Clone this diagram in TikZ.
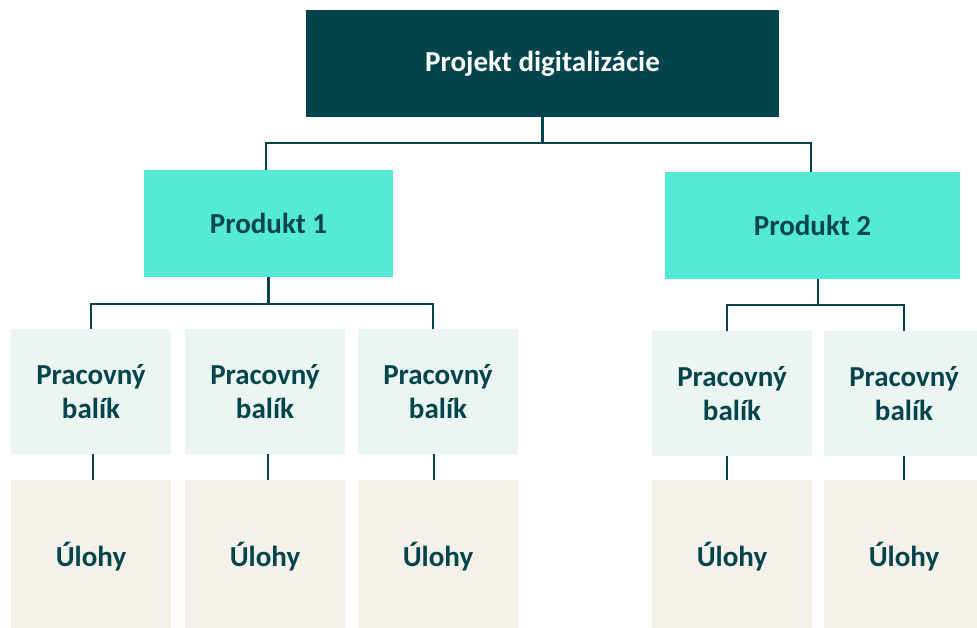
\documentclass[tikz,border=0pt]{standalone}
\usepackage{fontspec}
\setmainfont{Carlito}
\definecolor{deepteal}{HTML}{04454D}
\definecolor{turq}{HTML}{54EAD5}
\definecolor{mint}{HTML}{EBF5F1}
\definecolor{sand}{HTML}{F4F1EA}
\begin{document}
\begin{tikzpicture}[x=1pt,y=-1pt,
  box/.style={rectangle, inner sep=0pt, align=center,
    font=\fontsize{29}{34.5}\selectfont\bfseries, text=deepteal},
  rootbox/.style={box, fill=deepteal, text=white,
    minimum width=473pt, minimum height=106.7pt},
  prodbox/.style={box, fill=turq, minimum height=107pt},
  packbox/.style={box, fill=mint, minimum width=160pt, minimum height=125pt},
  taskbox/.style={box, fill=sand, minimum width=160pt, minimum height=154pt},
  link/.style={draw=deepteal, line width=2.3pt}]
\useasboundingbox (0,0) rectangle (977,628);
\clip (0,0) rectangle (977,628);

% top level
\node[rootbox] (root) at (542.5,63.3) {Projekt digitalizácie};

% products
\node[prodbox, minimum width=249pt] (p1) at (268.5,223.3) {Produkt 1};
\node[prodbox, minimum width=295pt] (p2) at (812.5,225.5) {Produkt 2};

% work packages
\node[packbox] (wa) at (91,391.5)  {Pracovný\\balík};
\node[packbox] (wb) at (265,391.5) {Pracovný\\balík};
\node[packbox] (wc) at (438,391.5) {Pracovný\\balík};
\node[packbox] (wd) at (732,393.5) {Pracovný\\balík};
\node[packbox] (we) at (904,393.5) {Pracovný\\balík};

% tasks
\node[taskbox] (ta) at (91,557)  {Úlohy};
\node[taskbox] (tb) at (265,557) {Úlohy};
\node[taskbox] (tc) at (438,557) {Úlohy};
\node[taskbox] (td) at (732,557) {Úlohy};
\node[taskbox] (te) at (904,557) {Úlohy};

% root to products
\draw[link] (root.south) -- ++(0,26.5) coordinate (bus0);
\draw[link] ([xshift=-2.5pt]p1.north) |- (bus0) -| ([xshift=-1.5pt]p2.north);

% product 1 to its packages
\draw[link] (p1.south) -- ++(0,27.3) coordinate (bus1);
\draw[link] (wa.north) |- (bus1) -| ([xshift=-5pt]wc.north);

% product 2 to its packages
\draw[link] ([xshift=5.5pt]p2.south) -- ++(0,26) coordinate (bus2);
\draw[link] ([xshift=-5pt]wd.north) |- (bus2) -| (we.north);

% packages to tasks
\draw[link] ([xshift=2pt]wa.south) -- ([xshift=2pt]ta.north);
\draw[link] ([xshift=3pt]wb.south) -- ([xshift=3pt]tb.north);
\draw[link] ([xshift=-4pt]wc.south) -- ([xshift=-4pt]tc.north);
\draw[link] ([xshift=-5pt]wd.south) -- ([xshift=-5pt]td.north);
\draw[link] (we.south) -- (te.north);
\end{tikzpicture}
\end{document}
